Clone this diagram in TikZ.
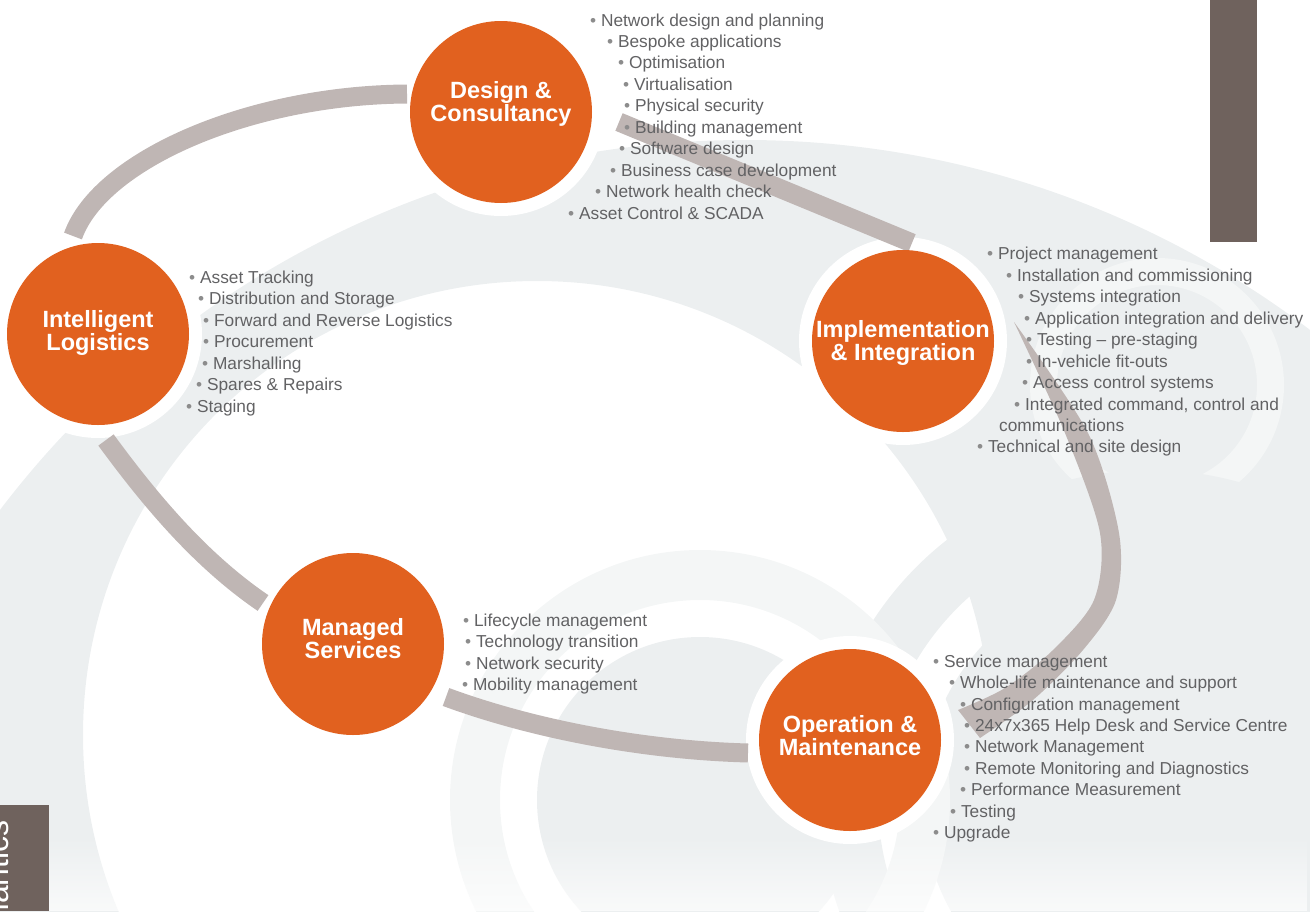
\documentclass[tikz,border=0pt]{standalone}
\usepackage{fontspec}
\setmainfont{Liberation Sans}
\usetikzlibrary{positioning, fadings}
\definecolor{hubfill}{RGB}{225,97,31}
\definecolor{bandgrey}{RGB}{191,182,180}
\definecolor{paper}{RGB}{236,239,240}
\definecolor{paperlight}{RGB}{244,246,246}
\definecolor{tabbrown}{RGB}{111,98,93}
\definecolor{itemgrey}{RGB}{98,98,100}
\definecolor{dotgrey}{RGB}{140,140,140}
\pgfdeclarelayer{back}
\pgfsetlayers{back,main}
\newcommand{\bul}{{\color{dotgrey}\textbullet}\ }
\tikzset{
  hub/.style = {circle, fill=hubfill, minimum size=182pt, inner sep=0pt},
  title/.style = {inner sep=0pt, text=white, align=center,
    font=\bfseries\fontsize{23.5}{23}\selectfont},
  halo/.style = {fill=white},
  band/.style = {draw=bandgrey, line width=19pt},
  item/.style = {anchor=base west, inner sep=0pt, text=itemgrey,
    font=\fontsize{17.3}{20}\selectfont},
  tab/.style = {fill=tabbrown}
}
\begin{document}
\begin{tikzpicture}[x=1pt, y=-1pt]
\path[use as bounding box, clip] (0,0) rectangle (1310,911);

% the five service hubs
\node[hub] (dc) at (501,112) {};
\node[hub] (il) at (98,334) {};
\node[hub] (ii) at (903,341) {};
\node[hub] (ms) at (353,644) {};
\node[hub] (om) at (850,740) {};
\node[title] (dc-t) at ([yshift=8pt]dc) {Design \&\\Consultancy};
\node[title] (il-t) at ([yshift=1pt]il) {Intelligent\\Logistics};
\node[title] (ii-t) at ([yshift=-2pt]ii) {Implementation\\\& Integration};
\node[title] (ms-t) at ([yshift=5pt]ms) {Managed\\Services};
\node[title] (om-t) at ([yshift=4pt]om) {Operation \&\\Maintenance};

% ends of the bands
\coordinate (il-n) at (73,236);
\coordinate (dc-w) at (407,94);
\coordinate (dc-e) at (619,122);
\coordinate (ii-n) at (912,243);
\coordinate (ii-e) at (1014,322);
\coordinate (om-ne) at (980,738);
\coordinate (om-nw) at (958,710);
\coordinate (om-w) at (748,753);
\coordinate (ms-e) at (446,697);
\coordinate (ms-nw) at (263,603);
\coordinate (il-s) at (106,440);

\begin{pgfonlayer}{back}
% pale rings behind
\fill[paper, even odd rule] (745,1075) circle[radius=935pt]
  (537,735) circle[radius=454pt];
\fill[paper] (1157,385) circle[radius=77pt];
\fill[paperlight, even odd rule] (1157,385) circle[radius=127pt] circle[radius=100pt];
\fill[paper] (1150,800) circle[radius=228pt];
\fill[paper, even odd rule] (1150,800) circle[radius=330pt] circle[radius=272pt];
\fill[paper] (700,800) circle[radius=163pt];
\fill[paperlight, even odd rule] (700,800) circle[radius=250pt] circle[radius=200pt];
\fill[white, path fading=north, fill opacity=0.7] (0,835) rectangle (1310,911);
\foreach \n in {dc,il,ii,ms,om}
  \fill[halo] (\n) circle[radius=104pt];
% bands between hubs
\draw[band] (il-n) .. controls (100,160) and (250,95) .. (dc-w);
\draw[band] (dc-e) -- (ii-n);
\fill[bandgrey] plot[smooth] coordinates {(ii-e) (1088,433) (1119,533)
  (1116,600) (1083,650) (1033,700) (om-ne)}
  -- plot[smooth] coordinates {(om-nw) (1005,688) (1053,650) (1094,600)
  (1100,533) (1065,433) (ii-e)} -- cycle;
\draw[band] (om-w) .. controls (640,750) and (530,728) .. (ms-e);
\draw[band] (ms-nw) .. controls (200,560) and (150,500) .. (il-s);
\end{pgfonlayer}

% side tabs
\fill[tab] (1210,0) rectangle (1257,242);
\fill[tab] (0,805) rectangle (49,911);
\node[rotate=90, anchor=base east, inner sep=0pt, text=white,
  font=\fontsize{32}{32}\selectfont] (tab-txt) at (9,820) {Semantics};

% lists
\foreach \x/\y/\t [count=\i] in {593/20/Network design and planning,
  610/41/Bespoke applications, 621/62/Optimisation, 626/84/Virtualisation,
  627/105/Physical security, 627/127/Building management,
  622/148/Software design, 613/170/Business case development,
  598/191/Network health check, 571/213/Asset Control \& SCADA}
  \node[item] (dc-\i) at (\x-3,\y+6) {\bul\t};
\foreach \x/\y/\t [count=\i] in {192/277/Asset Tracking,
  201/298/Distribution and Storage, 206/320/Forward and Reverse Logistics,
  206/341/Procurement, 205/363/Marshalling, 199/384/Spares \& Repairs,
  189/406/Staging}
  \node[item] (il-\i) at (\x-3,\y+6) {\bul\t};
\foreach \x/\y/\t [count=\i] in {990/253/Project management,
  1009/275/Installation and commissioning, 1021/296/Systems integration,
  1027/318/Application integration and delivery,
  1029/339/Testing – pre-staging, 1029/361/In-vehicle fit-outs,
  1025/382/Access control systems, 1017/404/{Integrated command, control and},
  980/446/Technical and site design}
  \node[item] (ii-\i) at (\x-3,\y+6) {\bul\t};
\node[item] (ii-cont) at (999,431) {communications};
\foreach \x/\y/\t [count=\i] in {466/620/Lifecycle management,
  468/641/Technology transition, 468/663/Network security,
  465/684/Mobility management}
  \node[item] (ms-\i) at (\x-3,\y+6) {\bul\t};
\foreach \x/\y/\t [count=\i] in {936/661/Service management,
  952/682/Whole-life maintenance and support,
  963/704/Configuration management,
  967/725/24x7x365 Help Desk and Service Centre,
  967/746/Network Management, 967/768/Remote Monitoring and Diagnostics,
  963/789/Performance Measurement, 953/811/Testing, 936/832/Upgrade}
  \node[item] (om-\i) at (\x-3,\y+6) {\bul\t};
\end{tikzpicture}
\end{document}
